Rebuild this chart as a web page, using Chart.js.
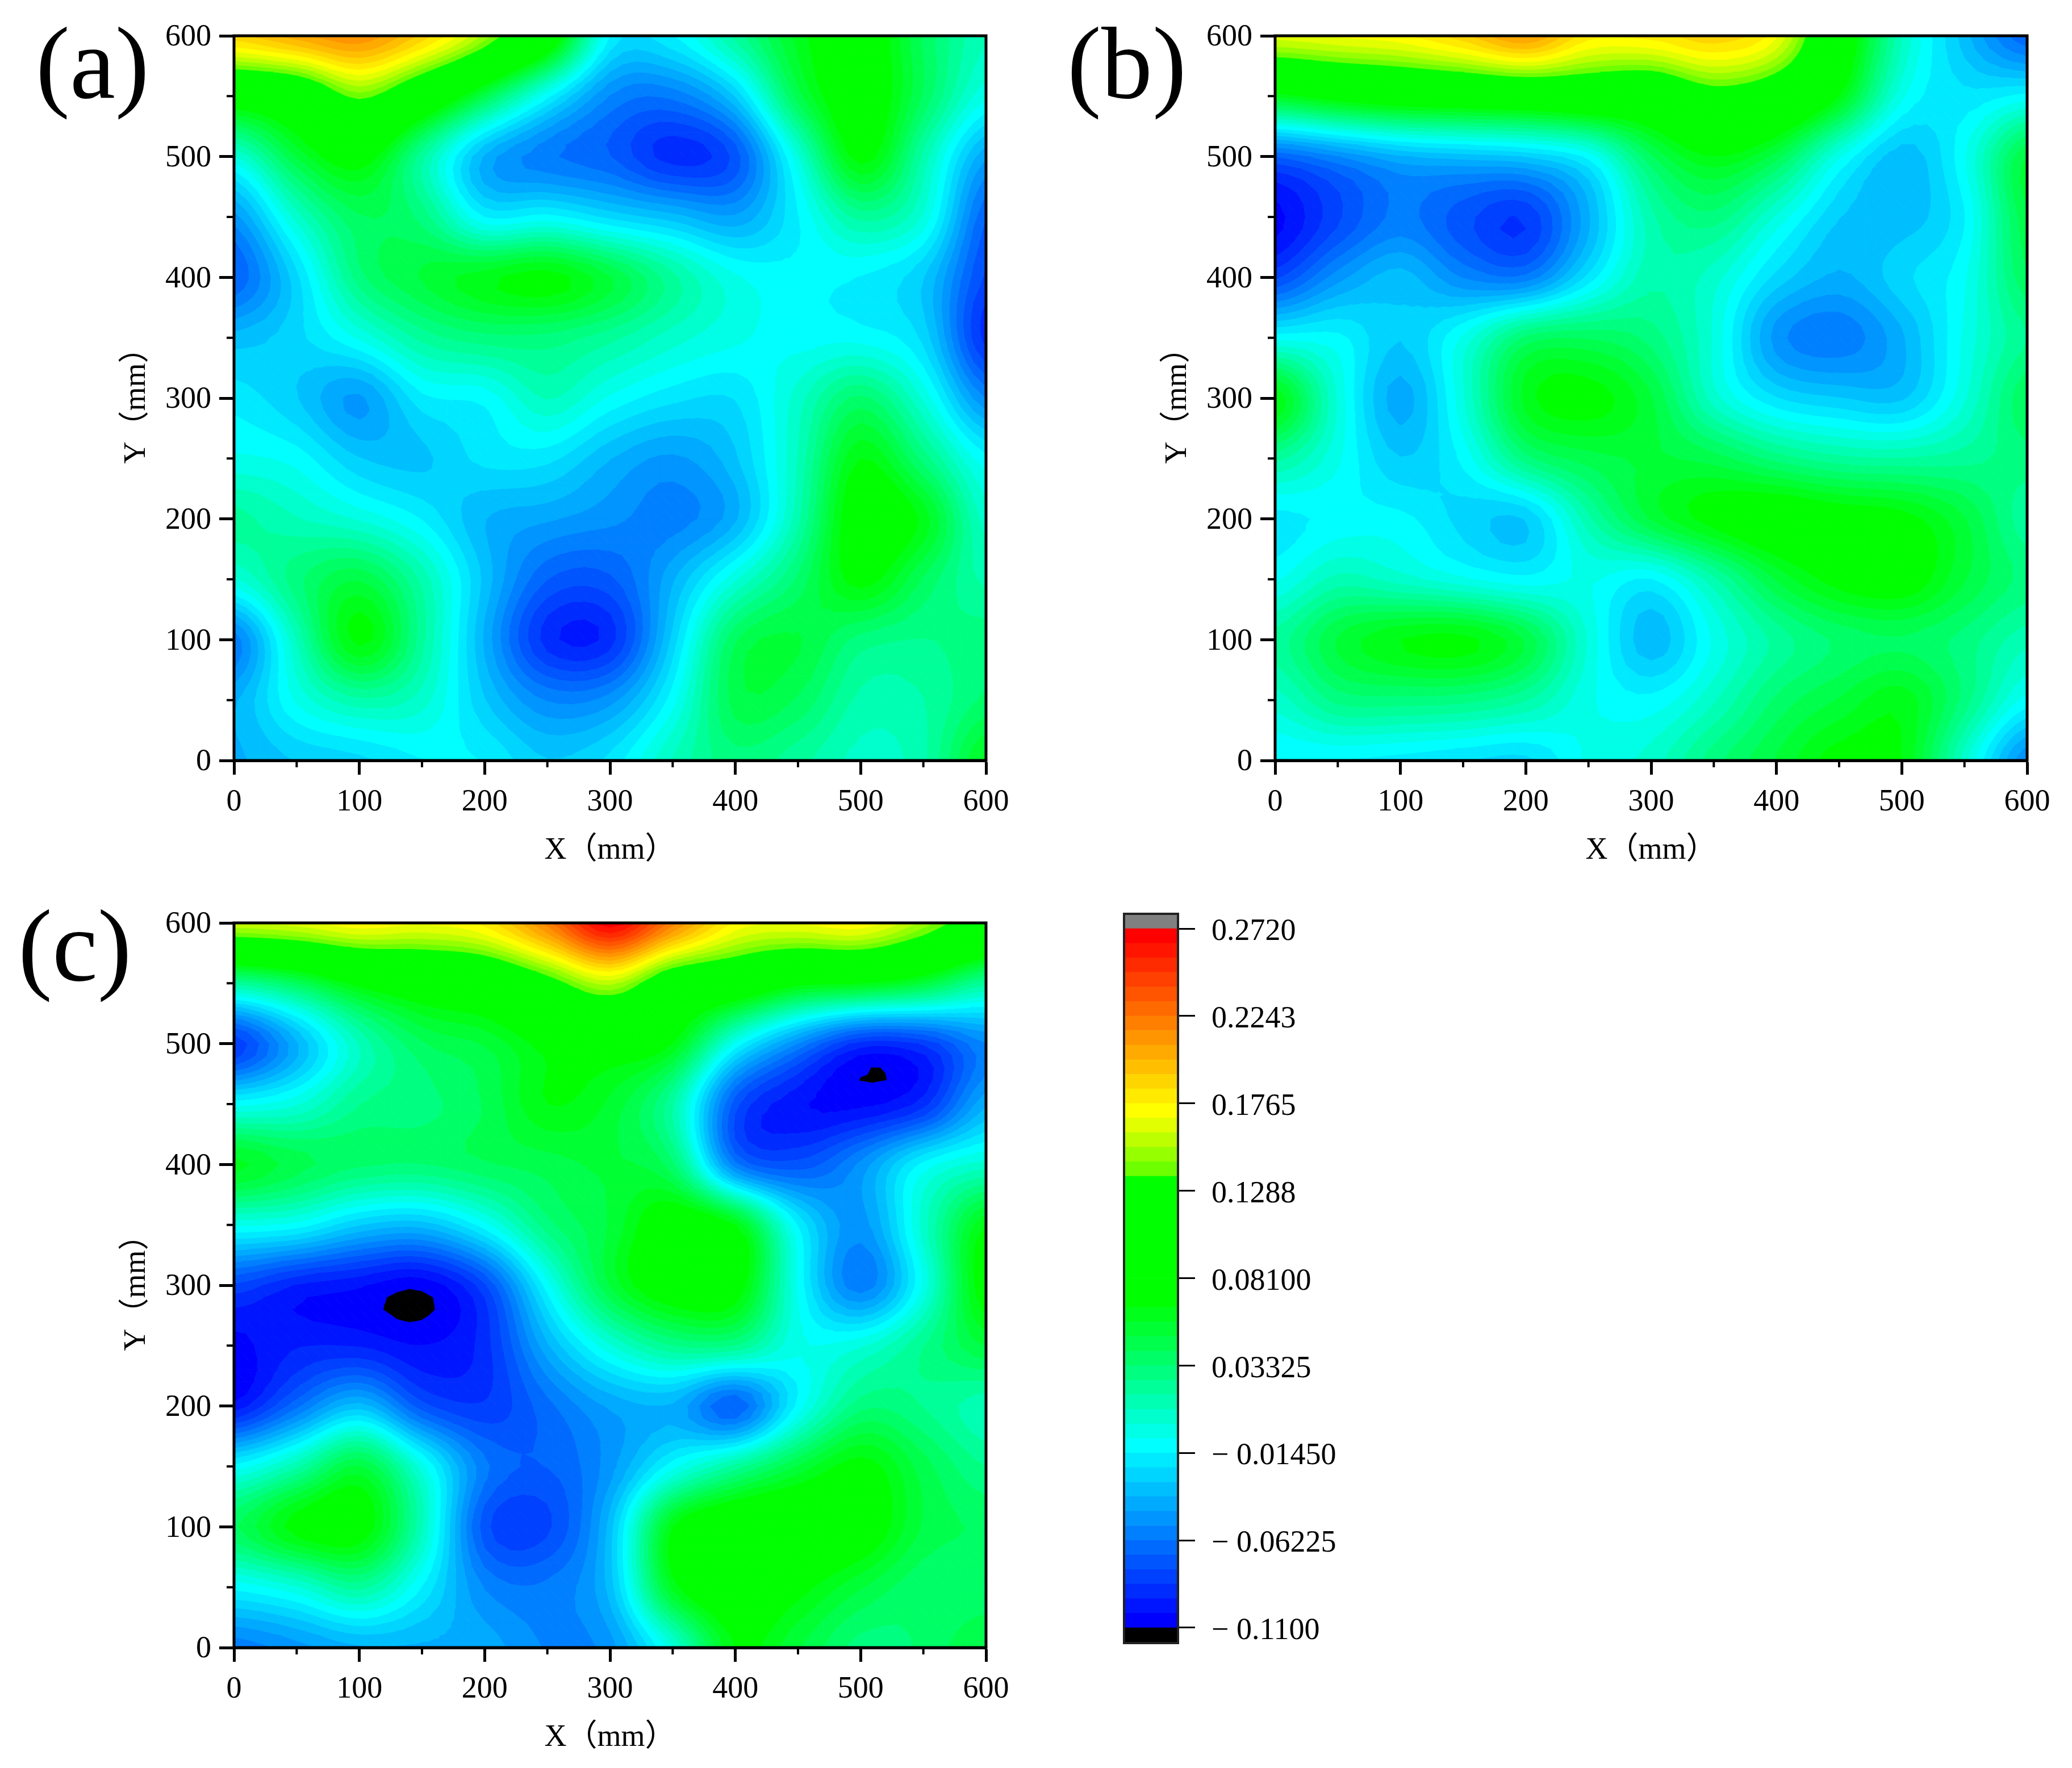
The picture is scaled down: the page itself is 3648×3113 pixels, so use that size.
<!DOCTYPE html>
<html>
<head>
<meta charset="utf-8">
<title>Contour maps</title>
<script src="https://cdn.jsdelivr.net/npm/chart.js@4/dist/chart.umd.min.js"></script>
<style>
    html, body { margin: 0; padding: 0; background: #fff; }
    body { position: relative; width: 3648px; height: 3113px; overflow: hidden; }
    canvas { position: absolute; }
    .tag { position: absolute; font: 180px/1 "Liberation Serif", serif; color: #000; }
</style>
</head>
<body>
<canvas id="chartA"></canvas>
<canvas id="chartB"></canvas>
<canvas id="chartC"></canvas>
<canvas id="chartBar"></canvas>
<div class="tag" style="left:63px;top:22px">(a)</div>
<div class="tag" style="left:1879px;top:22px">(b)</div>
<div class="tag" style="left:32px;top:1576px">(c)</div>
<script>
// grid nodes every 50 mm, rows go from y = 600 down to y = 0
const xNodes = [0, 50, 100, 150, 200, 250, 300, 350, 400, 450, 500, 550, 600];
const yNodes = [600, 550, 500, 450, 400, 350, 300, 250, 200, 150, 100, 50, 0];
const majorTicks = [0, 100, 200, 300, 400, 500, 600];
const minorTicks = [50, 150, 250, 350, 450, 550];

const valuesA = [
    [.19, .205, .215, .19, .15, .09, -.015, -.015, .02, .06, .08, .04, .01],
    [.085, .10, .14, .10, .045, -.012, -.055, -.06, -.03, .045, .08, .04, -.005],
    [0, .05, .075, .02, -.04, -.06, -.07, -.09, -.075, 0, .07, .015, -.045],
    [-.05, .005, .04, .03, -.015, -.012, -.025, -.035, -.045, -.015, .02, 0, -.07],
    [-.07, -.025, .03, .05, .062, .07, .05, .02, -.005, -.012, -.015, -.03, -.08],
    [-.035, -.025, -.005, .02, .03, .03, .02, .005, -.005, -.01, -.01, -.025, -.09],
    [-.018, -.03, -.048, -.017, -.012, .01, -.008, -.02, -.022, .005, .035, 0, -.055],
    [-.005, -.01, -.03, -.032, -.02, -.02, -.038, -.048, -.032, .01, .065, .03, -.012],
    [.02, .01, 0, -.015, -.038, -.045, -.052, -.058, -.04, .015, .08, .062, .005],
    [0, .03, .048, .015, -.033, -.07, -.072, -.04, 0, .035, .07, .04, .015],
    [-.06, .01, .068, .02, -.04, -.09, -.09, -.028, .04, .05, .03, .025, .03],
    [-.04, -.005, .015, .005, -.03, -.055, -.05, -.01, .045, .04, .015, .017, .035],
    [-.04, -.03, -.025, -.015, -.015, -.03, -.02, .01, .03, .02, .007, .015, .06]
];
const valuesB = [
    [.165, .17, .175, .19, .21, .18, .18, .19, .17, .09, .01, -.035, -.07],
    [.06, .075, .085, .09, .095, .10, .10, .125, .11, .065, -.005, -.02, -.012],
    [-.07, -.055, -.04, -.035, -.03, -.012, .04, .065, .045, -.005, -.035, -.008, .05],
    [-.105, -.08, -.06, -.075, -.085, -.04, .015, .03, 0, -.03, -.035, -.015, .048],
    [-.08, -.05, -.035, -.055, -.06, -.02, .015, .005, -.025, -.04, -.025, -.008, .04],
    [-.01, -.012, -.03, -.005, .035, .04, .03, 0, -.05, -.06, -.04, -.005, .025],
    [.065, 0, -.042, 0, .06, .07, .05, .005, -.022, -.03, -.032, 0, .04],
    [.02, -.005, -.03, -.012, .03, .045, .05, .045, .03, .02, .018, .022, .03],
    [-.018, -.012, -.012, -.025, -.03, .015, .05, .07, .08, .075, .07, .05, .02],
    [-.008, .012, .005, -.005, -.012, -.005, -.015, .015, .05, .07, .075, .05, .03],
    [.02, .05, .065, .068, .048, 0, -.036, -.005, .02, .035, .04, .03, .012],
    [.005, .028, .03, .028, .018, -.005, -.012, .008, .035, .05, .062, .03, -.01],
    [-.015, -.015, -.018, -.022, -.025, -.005, .005, .03, .05, .07, .065, .005, -.055]
];
const valuesC = [
    [.16, .165, .175, .17, .18, .22, .27, .22, .175, .17, .175, .15, .12],
    [.02, .04, .07, .085, .095, .125, .155, .11, .095, .07, .065, .05, .02],
    [-.085, -.04, .01, .04, .05, .07, .08, .065, -.008, -.055, -.09, -.085, -.055],
    [-.01, 0, .025, .03, .042, .065, .055, .018, -.075, -.10, -.1045, -.09, -.04],
    [.06, .045, .035, .033, .04, .045, .05, .035, -.06, -.075, -.052, -.012, .005],
    [-.005, -.01, -.03, -.035, -.01, .03, .05, .08, .065, -.015, -.05, .005, .065],
    [-.08, -.095, -.101, -.108, -.08, -.01, .05, .08, .075, -.008, -.06, -.005, .075],
    [-.105, -.095, -.095, -.102, -.09, -.04, 0, .025, .025, -.005, 0, .025, .05],
    [-.10, -.065, -.035, -.075, -.085, -.065, -.045, -.04, -.07, -.012, .03, .025, .012],
    [-.012, .015, .05, -.003, -.06, -.07, -.05, -.01, .02, .05, .07, .045, .025],
    [.04, .07, .075, .01, -.075, -.08, -.035, .065, .09, .09, .08, .048, .04],
    [-.012, 0, .02, -.015, -.055, -.06, -.035, .06, .085, .07, .05, .035, .035],
    [-.06, -.05, -.04, -.04, -.042, -.055, -.05, 0, .065, .05, .03, .035, .05]
];

// colour scale
const barMin = -0.11;
const barMax = 0.272;
const bandCount = 48;
const barTicks = [0.272, 0.2243, 0.1765, 0.1288, 0.081, 0.03325, -0.0145, -0.06225, -0.11];
const barLabels = ['0.2720', '0.2243', '0.1765', '0.1288', '0.08100', '0.03325', '\u2212 0.01450', '\u2212 0.06225', '\u2212 0.1100'];

function bandColor(k) {
    if (k < 12) return 'rgb(0,' + Math.round(21.25 * k) + ',255)';
    if (k < 22) return 'rgb(0,255,' + Math.round(25.5 * (22 - k)) + ')';
    if (k < 31) return 'rgb(0,255,0)';
    if (k < 35) return 'rgb(' + [110, 150, 190, 225][k - 31] + ',255,0)';
    return 'rgb(255,' + Math.round(255 * (47 - k) / 12) + ',0)';
}

// lo/hi/colour of every band, black and grey are the out of range ends
function buildBands() {
    const step = (barMax - barMin) / bandCount;
    const bands = [{ lo: -10, hi: barMin, color: '#000' }];
    for (let k = 0; k < bandCount; k++) {
        bands.push({ lo: barMin + k * step, hi: barMin + (k + 1) * step, color: bandColor(k) });
    }
    bands.push({ lo: barMax, hi: 10, color: '#808080' });
    return bands;
}
const bands = buildBands();

// keep the part of a polygon where sign * (v - level) >= 0
function clipPoly(poly, level, sign) {
    const out = [];
    for (let i = 0; i < poly.length; i++) {
        const a = poly[i];
        const b = poly[(i + 1) % poly.length];
        const da = sign * (a.v - level);
        const db = sign * (b.v - level);
        if (da >= 0) out.push(a);
        if ((da >= 0) !== (db >= 0)) {
            const t = da / (da - db);
            out.push({ x: a.x + t * (b.x - a.x), y: a.y + t * (b.y - a.y), v: level });
        }
    }
    return out;
}

function fillTriangle(ctx, tri) {
    const vs = tri.map(p => p.v);
    const min = Math.min(...vs);
    const max = Math.max(...vs);
    bands.forEach(band => {
        if (band.hi < min || band.lo > max) return;
        let poly = clipPoly(tri, band.lo, 1);
        if (poly.length) poly = clipPoly(poly, band.hi, -1);
        if (poly.length < 3) return;
        ctx.beginPath();
        poly.forEach((p, i) => i ? ctx.lineTo(p.x, p.y) : ctx.moveTo(p.x, p.y));
        ctx.closePath();
        ctx.fillStyle = band.color;
        ctx.strokeStyle = band.color;
        ctx.lineWidth = 1;
        ctx.fill();
        ctx.stroke();
    });
}

// rounded contour surface between the nodes, only used while painting the bands
function catmull(a, b, c, d, t) {
    return 0.5 * (2 * b + (c - a) * t + (2 * a - 5 * b + 4 * c - d) * t * t + (3 * b - a - 3 * c + d) * t * t * t);
}

function surface(nodes, r, c, u, w) {
    const n = xNodes.length;
    const m = yNodes.length;
    const get = (i, j) => nodes[Math.min(m - 1, Math.max(0, i)) * n + Math.min(n - 1, Math.max(0, j))].v;
    const rows = [-1, 0, 1, 2].map(dr => catmull(get(r + dr, c - 1), get(r + dr, c), get(r + dr, c + 1), get(r + dr, c + 2), u));
    return catmull(rows[0], rows[1], rows[2], rows[3], w);
}

// filled contour bands from the nodes of dataset 0, then frame and minor ticks
const contourPlugin = {
    id: 'contour',
    beforeDatasetsDraw(chart) {
        const ctx = chart.ctx;
        const area = chart.chartArea;
        const xs = chart.scales.x;
        const ys = chart.scales.y;
        const nodes = chart.data.datasets[0].data;
        const n = xNodes.length;
        const sub = 5;
        ctx.save();
        ctx.beginPath();
        ctx.rect(area.left, area.top, area.width, area.height);
        ctx.clip();
        for (let r = 0; r < yNodes.length - 1; r++) {
            for (let c = 0; c < n - 1; c++) {
                const at = (i, j) => {
                    const u = j / sub;
                    const w = i / sub;
                    return {
                        x: xs.getPixelForValue(xNodes[c] + u * (xNodes[c + 1] - xNodes[c])),
                        y: ys.getPixelForValue(yNodes[r] + w * (yNodes[r + 1] - yNodes[r])),
                        v: surface(nodes, r, c, u, w)
                    };
                };
                for (let i = 0; i < sub; i++) {
                    for (let j = 0; j < sub; j++) {
                        const p = [at(i, j), at(i, j + 1), at(i + 1, j + 1), at(i + 1, j)];
                        fillTriangle(ctx, [p[0], p[1], p[2]]);
                        fillTriangle(ctx, [p[0], p[2], p[3]]);
                    }
                }
            }
        }
        ctx.restore();
    },
    afterDraw(chart) {
        const ctx = chart.ctx;
        const area = chart.chartArea;
        ctx.save();
        ctx.strokeStyle = '#000';
        ctx.lineWidth = 5;
        ctx.strokeRect(area.left, area.top, area.width, area.height);
        ctx.lineWidth = 4;
        ctx.beginPath();
        minorTicks.forEach(v => {
            const px = chart.scales.x.getPixelForValue(v);
            ctx.moveTo(px, area.bottom);
            ctx.lineTo(px, area.bottom + 12);
            const py = chart.scales.y.getPixelForValue(v);
            ctx.moveTo(area.left, py);
            ctx.lineTo(area.left - 13, py);
        });
        ctx.stroke();
        ctx.restore();
    }
};

const tickFont = { family: '"Liberation Serif", serif', size: 54 };
const titleFont = { family: '"Liberation Serif", "Noto Sans CJK SC", serif', size: 54 };

function flatten(values) {
    const pts = [];
    yNodes.forEach((y, r) => xNodes.forEach((x, c) => pts.push({ x: x, y: y, v: values[r][c] })));
    return pts;
}

function noScalePadding(scale) {
    scale.paddingTop = 0;
    scale.paddingBottom = 0;
    scale.paddingLeft = 0;
    scale.paddingRight = 0;
}

function axis(title, sizeProp, size, tickLength, pad, labelShift) {
    return {
        type: 'linear',
        min: 0,
        max: 600,
        afterBuildTicks(scale) { scale.ticks = majorTicks.map(v => ({ value: v })); },
        afterFit(scale) {
            scale[sizeProp] = size;
            noScalePadding(scale);
        },
        border: { display: true, color: '#000', width: 5 },
        grid: { drawOnChartArea: false, color: '#000', tickColor: '#000', tickLength: tickLength, tickWidth: 5 },
        ticks: { color: '#000', font: tickFont, padding: pad, labelOffset: labelShift, maxRotation: 0, autoSkip: false },
        title: { display: true, text: title, color: '#000', font: titleFont, padding: 0 }
    };
}

function makePanel(id, values, left, top) {
    const canvas = document.getElementById(id);
    canvas.width = 1592;
    canvas.height = 1530;
    canvas.style.left = left + 'px';
    canvas.style.top = top + 'px';
    new Chart(canvas, {
        type: 'scatter',
        data: { datasets: [{ data: flatten(values), pointRadius: 0, showLine: false }] },
        options: {
            responsive: false,
            animation: false,
            devicePixelRatio: 1,
            layout: { padding: { left: 0, right: 64, top: 63, bottom: 0 } },
            plugins: { legend: { display: false }, tooltip: { enabled: false } },
            scales: {
                x: axis('X\uFF08mm\uFF09', 'height', 191, 25, 16, 0),
                y: axis('Y\uFF08mm\uFF09', 'width', 204, 26, 14, 3)
            }
        },
        plugins: [contourPlugin]
    });
}

makePanel('chartA', valuesA, 208, 0);
makePanel('chartB', valuesB, 2041, 0);
makePanel('chartC', valuesC, 208, 1562);

// colour bar as floating bars on one category
const barTop = 0.28007;
const barBottom = -0.11838;
const barCanvas = document.getElementById('chartBar');
barCanvas.width = 500;
barCanvas.height = 1344;
barCanvas.style.left = '1900px';
barCanvas.style.top = '1579px';
new Chart(barCanvas, {
    type: 'bar',
    data: {
        labels: ['scale'],
        datasets: bands.map(b => ({
            data: [[Math.max(b.lo, barBottom), Math.min(b.hi, barTop)]],
            backgroundColor: b.color,
            borderWidth: 0,
            barPercentage: 1,
            categoryPercentage: 1
        }))
    },
    options: {
        responsive: false,
        animation: false,
        devicePixelRatio: 1,
        layout: { padding: { left: 79, right: 0, top: 30, bottom: 30 } },
        plugins: { legend: { display: false }, tooltip: { enabled: false } },
        scales: {
            x: { display: false, stacked: true },
            y: {
                position: 'right',
                min: barBottom,
                max: barTop,
                afterBuildTicks(scale) { scale.ticks = barTicks.map(v => ({ value: v })); },
                afterFit(scale) {
                    scale.width = 326;
                    noScalePadding(scale);
                },
                border: { display: false },
                grid: { drawOnChartArea: false, tickColor: '#000', tickLength: 30, tickWidth: 3 },
                ticks: {
                    color: '#000',
                    font: { family: '"Liberation Serif", serif', size: 54 },
                    padding: 29,
                    labelOffset: 6,
                    autoSkip: false,
                    callback: v => barLabels[barTicks.indexOf(v)]
                }
            }
        }
    },
    plugins: [{
        id: 'barFrame',
        afterDraw(chart) {
            const a = chart.chartArea;
            chart.ctx.save();
            chart.ctx.strokeStyle = '#222';
            chart.ctx.lineWidth = 4;
            chart.ctx.strokeRect(a.left, a.top, a.width, a.height);
            chart.ctx.restore();
        }
    }]
});
</script>
</body>
</html>
